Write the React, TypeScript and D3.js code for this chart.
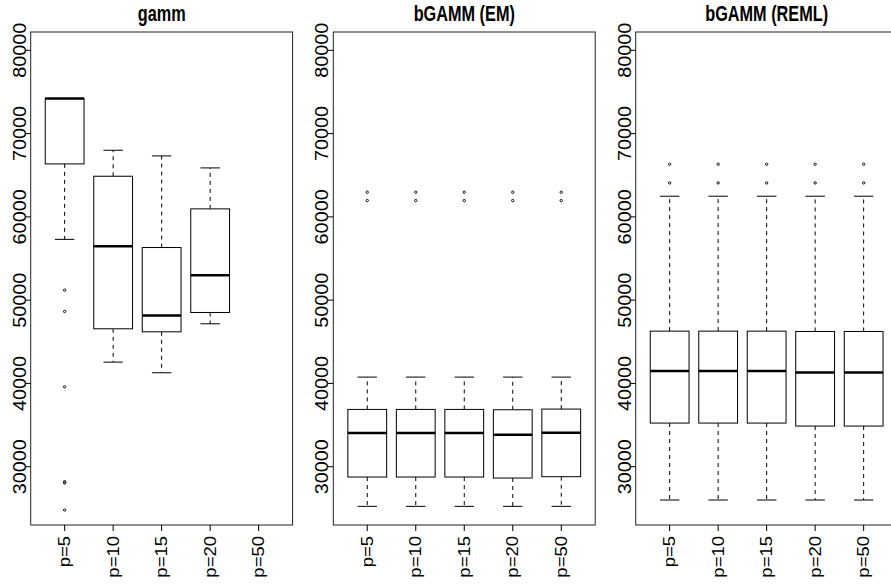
import React from 'react';
import * as d3 from 'd3';

const categories = ['p=5', 'p=10', 'p=15', 'p=20', 'p=50'];
const panelTitles = ['gamm', 'bGAMM (EM)', 'bGAMM (REML)'];
const yTicks = [30000, 40000, 50000, 60000, 70000, 80000];

// gamm
const gammLower = [57300, 42560, 41280, 47160, null];
const gammQ1 = [66360, 46560, 46200, 48520, null];
const gammMedian = [74200, 56480, 48160, 53000, null];
const gammQ3 = [74200, 64880, 56320, 60960, null];
const gammUpper = [74200, 68000, 67320, 65880, null];
const gammOutliers = [[51200, 48640, 39600, 28200, 28050, 24800], [], [], [], []];

// bGAMM (EM)
const emLower = [25240, 25240, 25240, 25240, 25240];
const emQ1 = [28760, 28760, 28760, 28640, 28800];
const emMedian = [34040, 34040, 34040, 33840, 34080];
const emQ3 = [36880, 36880, 36880, 36840, 36920];
const emUpper = [40760, 40760, 40760, 40760, 40760];
const emOutliers = [[62960, 61960], [62960, 61960], [62960, 61960], [62960, 61960], [62960, 61960]];

// bGAMM (REML)
const remlLower = [26000, 26000, 26000, 26000, 26000];
const remlQ1 = [35240, 35240, 35240, 34880, 34880];
const remlMedian = [41480, 41480, 41480, 41320, 41320];
const remlQ3 = [46280, 46280, 46280, 46240, 46240];
const remlUpper = [62480, 62480, 62480, 62480, 62480];
const remlOutliers = [[66320, 64080], [66320, 64080], [66320, 64080], [66320, 64080], [66320, 64080]];

const panels = [
  { title: panelTitles[0], lo: gammLower, q1: gammQ1, med: gammMedian, q3: gammQ3, hi: gammUpper, out: gammOutliers },
  { title: panelTitles[1], lo: emLower, q1: emQ1, med: emMedian, q3: emQ3, hi: emUpper, out: emOutliers },
  { title: panelTitles[2], lo: remlLower, q1: remlQ1, med: remlMedian, q3: remlQ3, hi: remlUpper, out: remlOutliers },
];

const W = 891;
const H = 588;
const panelLefts = [30.7, 333.3, 635.7];
const panelWidth = 261.9;
const plotTop = 32;
const plotBottom = 525;
const FONT = "'Liberation Sans', Arial, Helvetica, sans-serif";

export default function App() {
  const y = d3.scaleLinear().domain([23000, 82200]).range([plotBottom, plotTop]);
  return (
    <svg width={W} height={H} style={{ position: 'absolute', left: 0, top: 0, background: '#fff' }}
      fontFamily={FONT}>
      {panels.map((p, pi) => {
        const left = panelLefts[pi];
        const right = left + panelWidth;
        const x = d3.scaleLinear().domain([0.3, categories.length + 0.7]).range([left, right]);
        const unit = x(1) - x(0);
        const bw = 0.8 * unit;
        const cw = 0.4 * unit;
        return (
          <g key={pi}>
            <g transform={`translate(${(left + right) / 2},20.5) scale(0.74,1)`}>
              <text textAnchor="middle" fontWeight="bold" fontSize={22} fill="#000">{p.title}</text>
            </g>
            <rect x={left} y={plotTop} width={right - left} height={plotBottom - plotTop}
              fill="none" stroke="#222" strokeWidth={1} />
            {yTicks.map((t) => (
              <g key={t}>
                <line x1={left - 5.5} x2={left} y1={y(t)} y2={y(t)} stroke="#000" strokeWidth={1} />
                <g transform={`translate(${left - 5},${y(t)}) rotate(-90) scale(1,0.9)`}>
                  <text textAnchor="middle" fontSize={19.8} fill="#000">{d3.format('d')(t)}</text>
                </g>
              </g>
            ))}
            {categories.map((c, i) => {
              const cx = x(i + 1);
              return (
                <g key={c}>
                  <line x1={cx} x2={cx} y1={plotBottom} y2={plotBottom + 6} stroke="#000" strokeWidth={1} />
                  <g transform={`translate(${cx + 5.5},536) rotate(-90) scale(1,0.85)`}>
                    <text textAnchor="end" fontSize={18.5} fill="#000">{c}</text>
                  </g>
                </g>
              );
            })}
            {categories.map((c, i) => {
              if (p.med[i] == null) return null;
              const cx = x(i + 1);
              const lo = p.lo[i] as number;
              const q1 = p.q1[i] as number;
              const med = p.med[i] as number;
              const q3 = p.q3[i] as number;
              const hi = p.hi[i] as number;
              return (
                <g key={'b' + c}>
                  {q1 > lo && (
                    <line x1={cx} x2={cx} y1={y(q1)} y2={y(lo)} stroke="#000" strokeWidth={1} strokeDasharray="4,4" />
                  )}
                  {hi > q3 && (
                    <line x1={cx} x2={cx} y1={y(q3)} y2={y(hi)} stroke="#000" strokeWidth={1} strokeDasharray="4,4" />
                  )}
                  <line x1={cx - cw / 2} x2={cx + cw / 2} y1={y(lo)} y2={y(lo)} stroke="#000" strokeWidth={1} />
                  <line x1={cx - cw / 2} x2={cx + cw / 2} y1={y(hi)} y2={y(hi)} stroke="#000" strokeWidth={1} />
                  <rect x={cx - bw / 2} y={y(q3)} width={bw} height={y(q1) - y(q3)} fill="#fff" stroke="#000" strokeWidth={1} />
                  <line x1={cx - bw / 2} x2={cx + bw / 2} y1={y(med)} y2={y(med)} stroke="#000" strokeWidth={2.5} />
                  {p.out[i].map((o, k) => (
                    <circle key={k} cx={cx} cy={y(o)} r={1.2} fill="none" stroke="#000" strokeWidth={0.9} />
                  ))}
                </g>
              );
            })}
          </g>
        );
      })}
    </svg>
  );
}
